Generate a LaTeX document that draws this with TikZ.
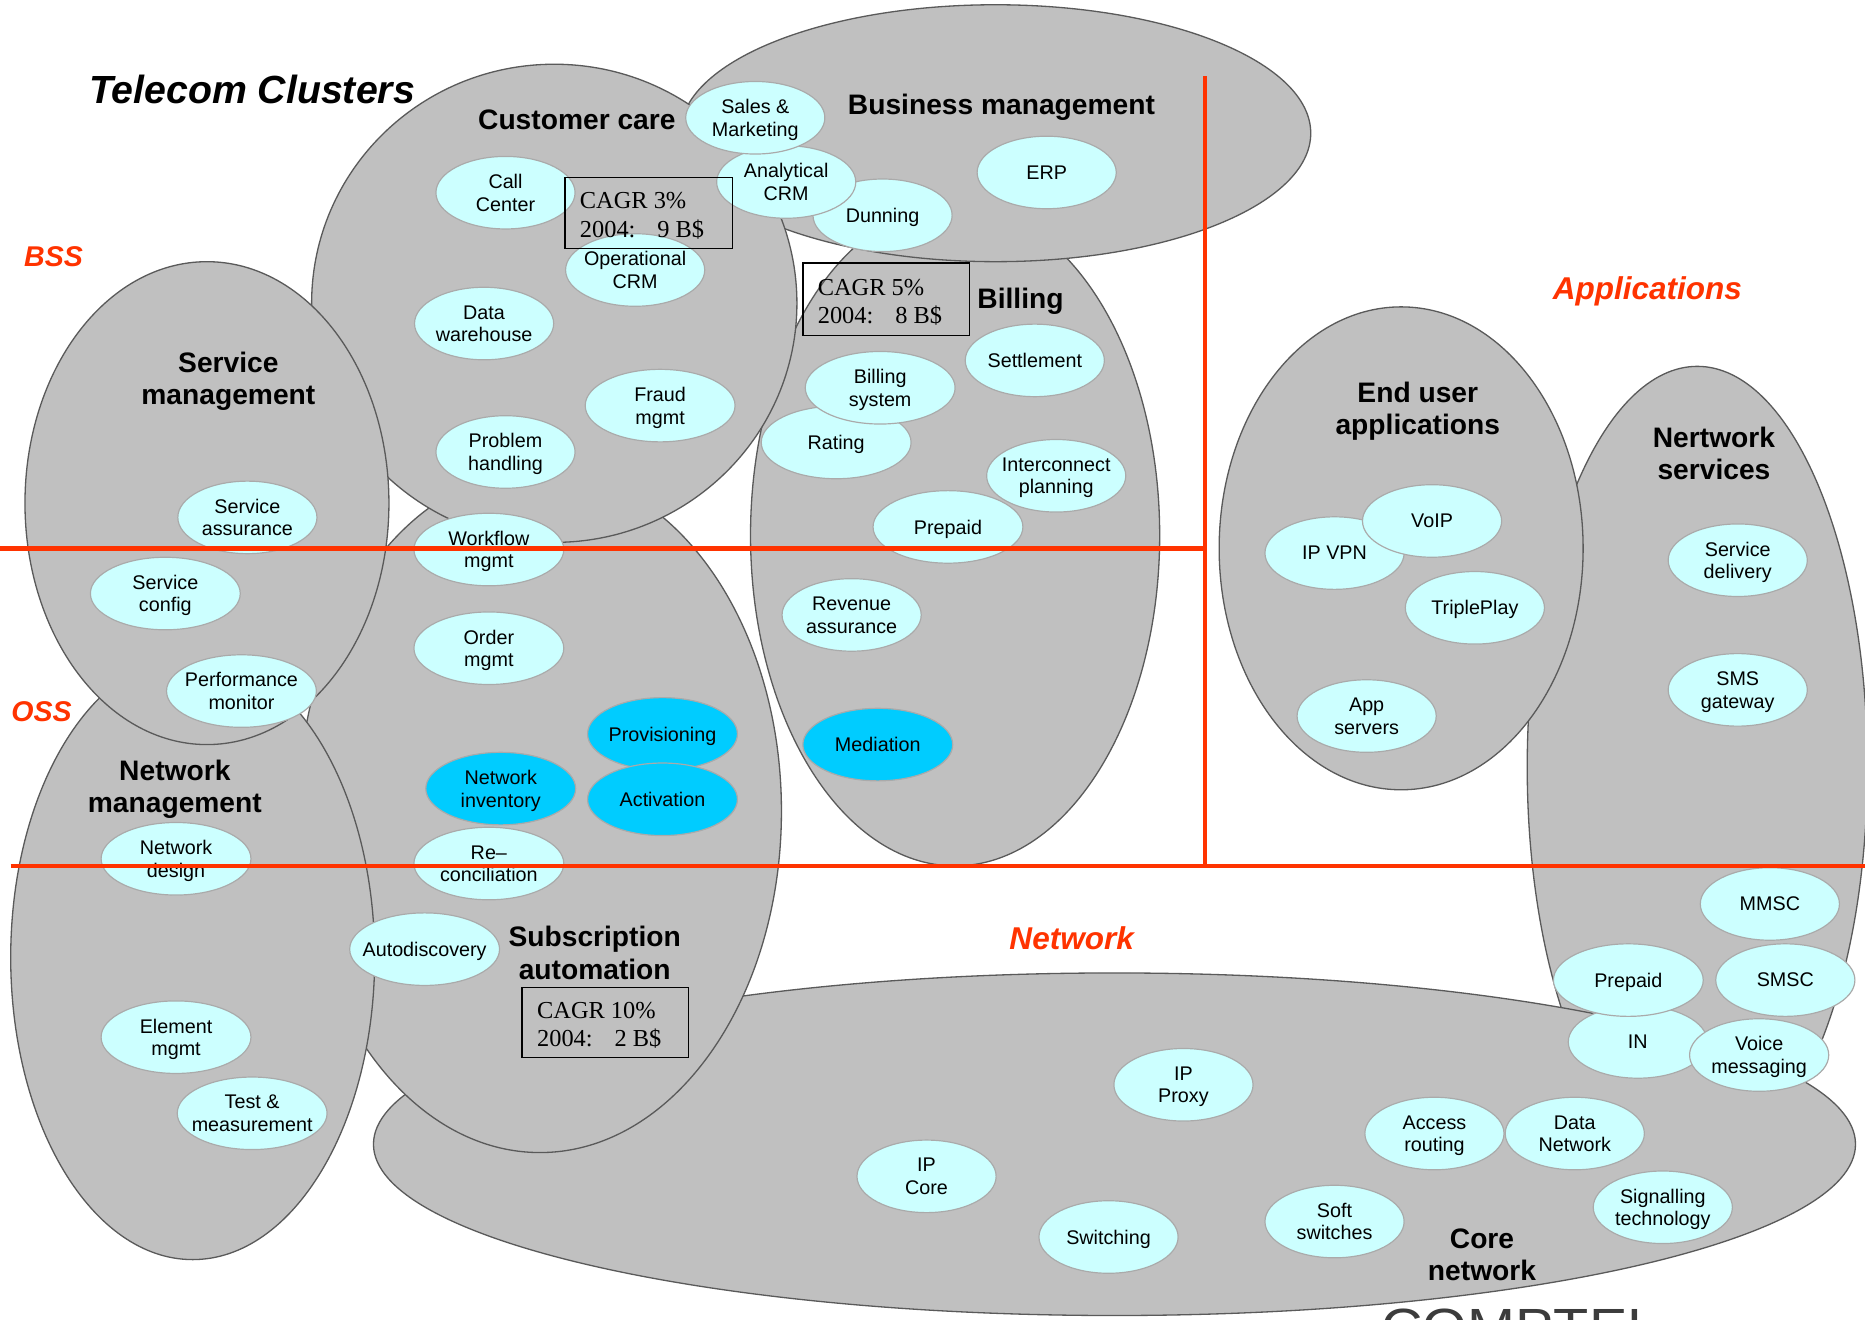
\documentclass[tikz,border=0pt]{standalone}
\usepackage{fontspec}
\setmainfont{Liberation Sans}
\newfontfamily\boxserif{Liberation Serif}
\usetikzlibrary{shapes.geometric}

\definecolor{clusterfill}{RGB}{192,192,192}
\definecolor{clusterline}{RGB}{90,90,90}
\definecolor{funcfill}{RGB}{204,255,255}
\definecolor{funcline}{RGB}{170,170,170}
\definecolor{autofill}{RGB}{0,204,255}
\definecolor{zonered}{RGB}{255,51,0}
\definecolor{brandgray}{RGB}{60,60,60}

\tikzset{
  cluster/.style={ellipse, fill=clusterfill, draw=clusterline, line width=1.1pt, inner sep=0pt},
  func/.style={ellipse, fill=funcfill, draw=funcline, line width=1pt,
    minimum width=117pt, minimum height=61pt, inner xsep=-30pt, inner ysep=-15pt,
    text depth=-3pt, align=center, font=\fontsize{16.6}{19}\selectfont},
  wide/.style={minimum width=126pt},
  automated/.style={fill=autofill},
  grouptitle/.style={align=center, inner sep=0pt, text depth=-1pt,
    font=\bfseries\fontsize{23.7}{27}\selectfont},
  zone/.style={inner sep=0pt, text depth=0pt, text=zonered,
    font=\bfseries\itshape\fontsize{26.5}{28}\selectfont},
  smallzone/.style={zone, font=\bfseries\itshape\fontsize{24}{28}\selectfont},
  growthbox/.style={draw=black, line width=1.2pt, rectangle, inner sep=0pt},
  growthtext/.style={anchor=west, inner sep=0pt, xshift=13pt, yshift=-2.5pt, align=left,
    font=\boxserif\fontsize{20.5}{24}\selectfont},
  divider/.style={draw=zonered, line width=4pt}
}
\newcommand{\yeargap}{\hspace{0.9em}}

\begin{document}
\begin{tikzpicture}[x=1pt,y=-1pt]
\useasboundingbox (0,0) rectangle (1568,1109);
\fill[white] (0,0) rectangle (1568,1109);
\clip (0,0) rectangle (1568,1109);

% ---- clusters, back to front ----
\node[cluster, minimum width=286pt, minimum height=674pt] (netsvc)   at (1427,645) {};
\node[cluster, minimum width=1246pt, minimum height=288pt] (core)    at (937,962) {};
\node[cluster, minimum width=406pt, minimum height=574pt] (subscr)   at (454,682) {};
\node[cluster, minimum width=344pt, minimum height=556pt] (billing)  at (803,450) {};
\node[cluster, minimum width=530pt, minimum height=216pt] (busmgmt)  at (837,112) {};
\node[cluster, minimum width=408pt, minimum height=402pt] (custcare) at (466,255) {};
\node[cluster, minimum width=306pt, minimum height=508pt] (netmgmt)  at (162,805) {};
\node[cluster, minimum width=306pt, minimum height=406pt] (svcmgmt)  at (174,423) {};
\node[cluster, minimum width=306pt, minimum height=406pt] (enduser)  at (1178,461) {};

% ---- cluster titles ----
\node[inner sep=0pt, font=\bfseries\itshape\fontsize{33}{36}\selectfont] (heading) at (212,75) {Telecom Clusters};
\node[grouptitle] (ccTitle) at (485,101) {Customer care};
\node[grouptitle] (bmTitle) at (842,88) {Business management};
\node[grouptitle] (blTitle) at (858,251) {Billing};
\node[grouptitle] (smTitle) at (192,318) {Service\\management};
\node[grouptitle] (nmTitle) at (147,661) {Network\\management};
\node[grouptitle] (saTitle) at (500,801) {Subscription\\automation};
\node[grouptitle] (euTitle) at (1192,343) {End user\\applications};
\node[grouptitle] (nsTitle) at (1441,381) {Nertwork\\services};
\node[grouptitle] (cnTitle) at (1246,1055) {Core\\network};

% ---- customer care / business management ----
\node[func] (dunning)  at (742,181) {Dunning};
\node[func] (analytic) at (661,153) {Analytical\\CRM};
\node[func] (sales)    at (635,99)  {Sales \&\\Marketing};
\node[func] (erp)      at (880,145) {ERP};
\node[func] (callctr)  at (425,162) {Call\\Center};
\node[func] (opcrm)    at (534,227) {Operational\\CRM};
\node[func] (dwh)      at (407,272) {Data\\warehouse};
\node[func, wide] (fraud)   at (555,341) {Fraud\\mgmt};
\node[func] (problem)  at (425,380) {Problem\\handling};

% ---- billing ----
\node[func, wide] (rating)   at (703,372) {Rating};
\node[func, wide] (billsys)  at (740,326) {Billing\\system};
\node[func] (settle)   at (870,303) {Settlement};
\node[func] (intercon) at (888,400) {Interconnect\\planning};
\node[func, wide] (prepaidB) at (797,443) {Prepaid};
\node[func] (revenue)  at (716,517) {Revenue\\assurance};
\node[func, wide, automated] (mediation) at (738,626) {Mediation};

% ---- service management ----
\node[func] (svcassur) at (208,435) {Service\\assurance};
\node[func, wide] (svcconf)  at (139,499) {Service\\config};
\node[func, wide] (perfmon)  at (203,581) {Performance\\monitor};

% ---- subscription automation ----
\node[func, wide] (workflow) at (411,462) {Workflow\\mgmt};
\node[func, wide] (order)    at (411,545) {Order\\mgmt};
\node[func, wide, automated] (provis)  at (557,617) {Provisioning};
\node[func, wide, automated] (netinv)  at (421,663) {Network\\inventory};
\node[func, wide, automated] (activ)   at (557,672) {Activation};
\node[func, wide] (recon)    at (411,726) {Re–\\conciliation};
\node[func, wide] (autodisc) at (357,798) {Autodiscovery};

% ---- network management ----
\node[func, wide] (netdesign) at (148,722) {Network\\design};
\node[func, wide] (element)   at (148,872) {Element\\mgmt};
\node[func, wide] (testmeas)  at (212,936) {Test \&\\measurement};

% ---- end user applications ----
\node[func] (ipvpn)  at (1122,465) {IP VPN};
\node[func] (voip)   at (1204,438) {VoIP};
\node[func] (triple) at (1240,511) {TriplePlay};
\node[func] (apps)   at (1149,602) {App\\servers};

% ---- network services ----
\node[func] (svcdeliv) at (1461,471) {Service\\delivery};
\node[func] (smsgw)    at (1461,580) {SMS\\gateway};
\node[func] (mmsc)     at (1488,760) {MMSC};
\node[func] (in)       at (1377,876) {IN};
\node[func, wide] (prepaidN) at (1369,824) {Prepaid};
\node[func] (smsc)     at (1501,824) {SMSC};
\node[func] (voicemsg) at (1479,887) {Voice\\messaging};

% ---- core network ----
\node[func] (ipproxy)  at (995,912)  {IP\\Proxy};
\node[func] (access)   at (1206,953) {Access\\routing};
\node[func] (datanet)  at (1324,953) {Data\\Network};
\node[func] (signal)   at (1398,1015) {Signalling\\technology};
\node[func] (ipcore)   at (779,989)  {IP\\Core};
\node[func] (switch)   at (932,1040) {Switching};
\node[func] (softsw)   at (1122,1027) {Soft\\switches};

% ---- market figures ----
\node[growthbox, minimum width=141pt, minimum height=60pt] (growthCC) at (545.5,179) {};
\node[growthtext] (growthCCtext) at (growthCC.west) {CAGR 3\%\\2004:\yeargap 9 B\$};
\node[growthbox, minimum width=140pt, minimum height=61pt] (growthBL) at (745,251.5) {};
\node[growthtext] (growthBLtext) at (growthBL.west) {CAGR 5\%\\2004:\yeargap 8 B\$};
\node[growthbox, minimum width=140pt, minimum height=59pt] (growthSA) at (509,859.5) {};
\node[growthtext] (growthSAtext) at (growthSA.west) {CAGR 10\%\\2004:\yeargap 2 B\$};

% ---- domain dividers ----
\coordinate (bssLeft)  at (0,461);
\coordinate (bssRight) at (1013,461);
\coordinate (appTop)   at (1013,64);
\coordinate (appBot)   at (1013,728);
\coordinate (ossLeft)  at (9,728);
\coordinate (ossRight) at (1568,728);
\draw[divider] (bssLeft) -- (bssRight);
\draw[divider] (appTop) -- (appBot);
\draw[divider] (ossLeft) -- (ossRight);

\node[smallzone] (bss)  at (45,216)   {BSS};
\node[smallzone] (oss)  at (35,598)   {OSS};
\node[zone] (appl) at (1385,242) {Applications};
\node[zone] (netw) at (901,789)  {Network};

% ---- company mark along the lower edge ----
\node[inner sep=0pt, anchor=base west, text=brandgray, font=\fontsize{44}{44}\selectfont] (brand) at (1161,1131) {\scalebox{1.1}[1]{COMPTEL}};
\end{tikzpicture}
\end{document}
